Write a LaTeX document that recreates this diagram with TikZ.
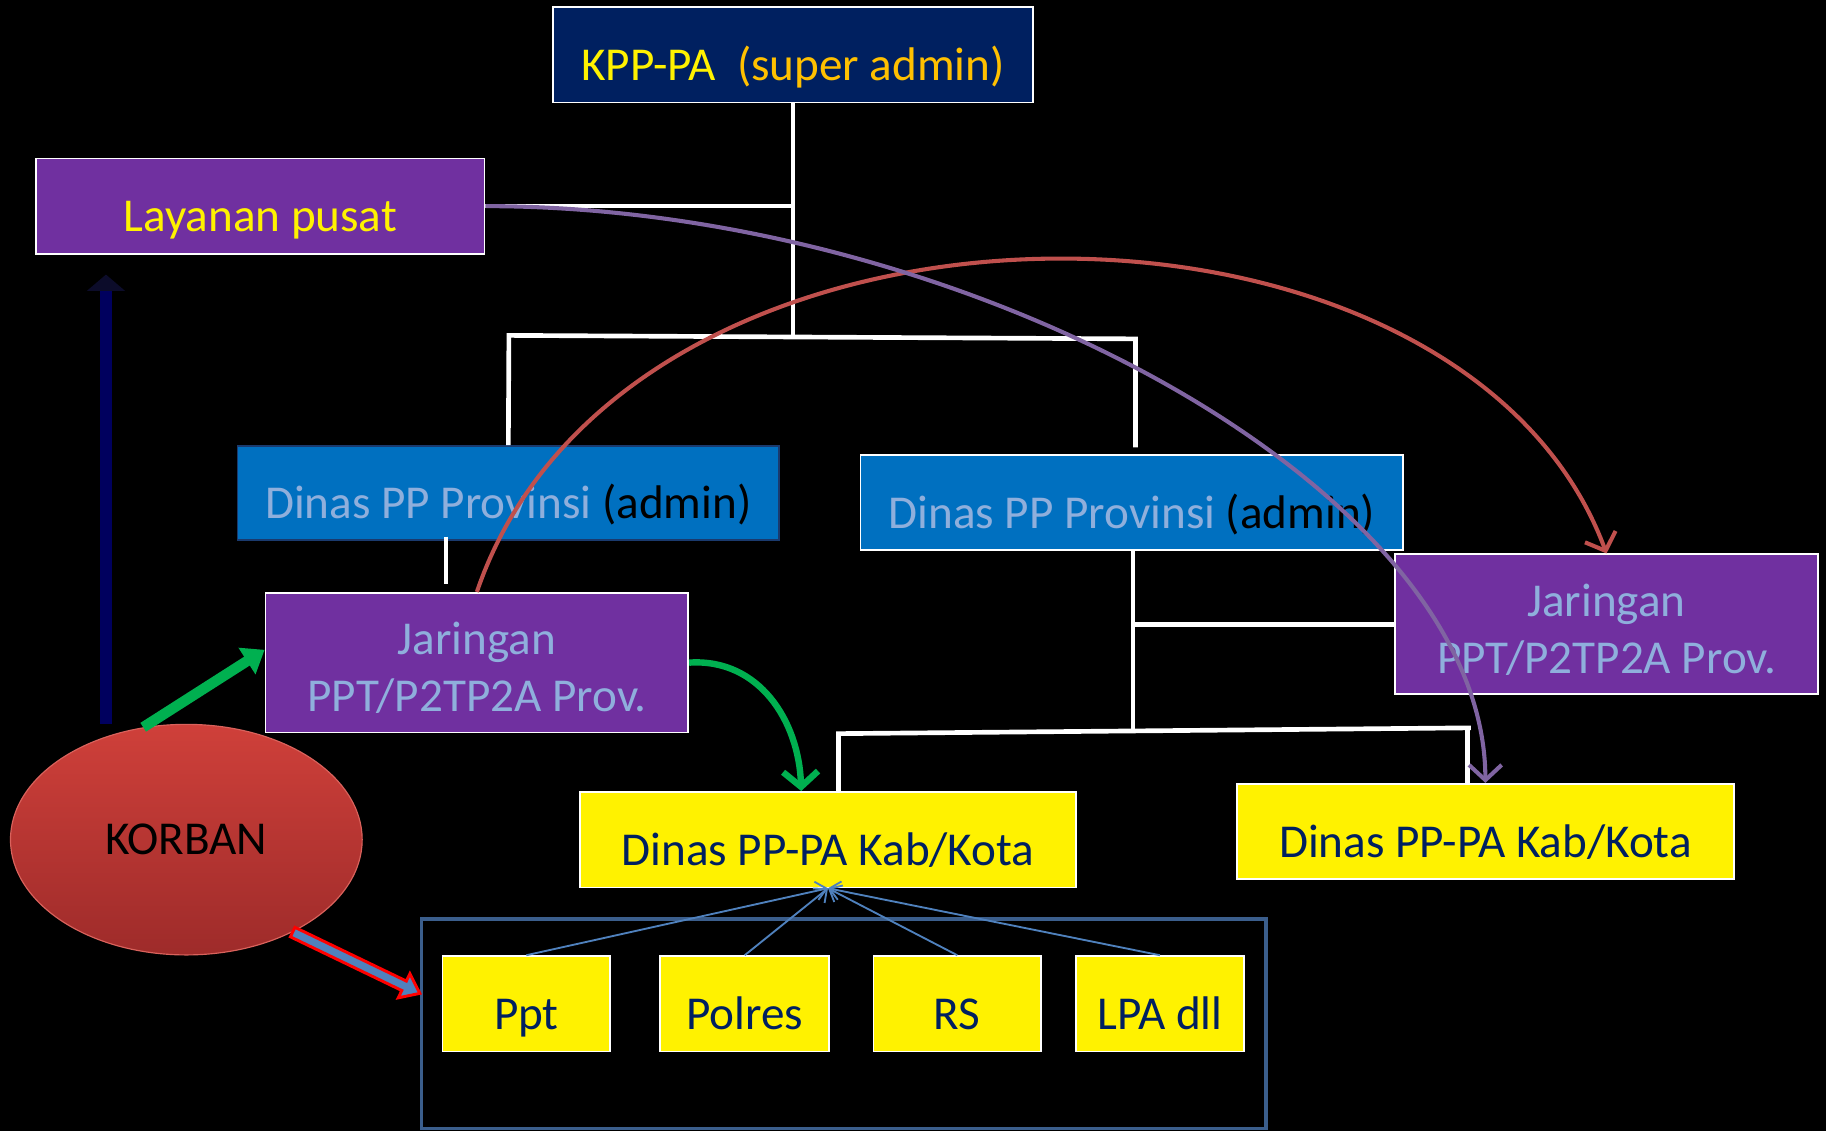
\documentclass[tikz,border=0pt]{standalone}
\usepackage{fontspec}
\setmainfont{Carlito}
\usetikzlibrary{arrows.meta,calc,shapes.geometric}
\definecolor{kppnavy}{HTML}{002060}
\definecolor{kppgold}{HTML}{FFC000}
\definecolor{ungu}{HTML}{7030A0}
\definecolor{dinasblue}{HTML}{0070C0}
\definecolor{dinasedge}{HTML}{1A3A6E}
\definecolor{pale}{HTML}{8FAFDC}
\definecolor{kabtext}{HTML}{002060}
\definecolor{redline}{HTML}{C0504D}
\definecolor{purpline}{HTML}{8064A2}
\definecolor{feedblue}{HTML}{4F81BD}
\definecolor{framecol}{HTML}{3B5E8C}
\definecolor{hijau}{HTML}{00B050}
\definecolor{tuanavy}{HTML}{00005E}
\definecolor{headdark}{HTML}{0C0C2A}
\definecolor{korbtop}{HTML}{CF403A}
\definecolor{korbbot}{HTML}{9E2B2A}
\definecolor{korbedge}{HTML}{D9625C}
\newcommand\slidefont{\fontsize{40.5}{49}\selectfont}

\begin{document}
\begin{tikzpicture}[x=1pt,y=-1pt,
  slidebox/.style={draw=white,line width=1.5pt,inner sep=0pt,minimum height=82pt,font=\slidefont,text height=44pt,text depth=0pt},
  twoline/.style={draw=white,line width=1.5pt,inner sep=0pt,minimum width=363pt,minimum height=120pt,font=\slidefont,align=center,fill=ungu,text=pale},
  tree/.style={white,line width=4pt},
  feed/.style={feedblue,line width=1.6pt,-{Straight Barb[length=9pt,width=16pt]}},
  curvy/.style={line width=3.5pt,-{Straight Barb[length=13pt,width=28pt]}}]
\useasboundingbox (0,0) rectangle (1568,971);
\fill[black] (0,0) rectangle (1568,971);

\node[slidebox,fill=kppnavy,minimum width=412pt] (kpp) at (681,47) {{\color{yellow}KPP-PA}\ \ {\color{kppgold}(super admin)}};
\node[slidebox,fill=ungu,text=yellow,minimum width=385pt] (layanan) at (223.5,177) {Layanan pusat};
\node[slidebox,fill=dinasblue,draw=dinasedge,minimum width=465pt,minimum height=81pt] (provL) at (436.5,423.5) {{\color{pale}Dinas PP Provinsi} (admin)};
\node[slidebox,fill=dinasblue,minimum width=466pt,minimum height=81pt] (provR) at (972,431.5) {{\color{pale}Dinas PP Provinsi} (admin)};
\node[twoline] (jarL) at (409.5,569) {\rule{0pt}{37pt}Jaringan\\PPT/P2TP2A Prov.};
\node[twoline] (jarR) at (1379.5,536) {\rule{0pt}{37pt}Jaringan\\PPT/P2TP2A Prov.};
\node[slidebox,fill=yellow,text=kabtext,minimum width=426pt] (kabL) at (711,721) {Dinas PP-PA Kab/Kota};
\node[slidebox,fill=yellow,text=kabtext,minimum width=427pt] (kabR) at (1275.5,714) {Dinas PP-PA Kab/Kota};
\node[ellipse,minimum width=302pt,minimum height=198pt,inner sep=0pt,top color=korbtop,bottom color=korbbot,draw=korbedge,line width=1pt,font=\slidefont] (korban) at (160,721) {KORBAN};

\node[draw=framecol,line width=3pt,minimum width=725pt,minimum height=180pt,inner sep=0pt] (frame) at (724.5,879) {};
\node[slidebox,fill=yellow,text=kabtext,minimum width=144pt] (ppt) at (452,862) {Ppt};
\node[slidebox,fill=yellow,text=kabtext,minimum width=145pt] (polres) at (639.5,862) {Polres};
\node[slidebox,fill=yellow,text=kabtext,minimum width=144pt] (rs) at (822,862) {RS};
\node[slidebox,fill=yellow,text=kabtext,minimum width=144pt] (lpa) at (996,862) {LPA dll};

\coordinate (trunk) at (681,289);
\coordinate (hL) at (437,288);
\coordinate (hR) at (975,291);
\coordinate (hub) at (973,536);
\coordinate (drop) at (973,627);
\coordinate (kL) at (718,630);
\coordinate (kR) at (1263,625);
\draw[tree] (kpp.south) -- (trunk);
\draw[tree] (layanan.east) -- (layanan.east -| trunk);
\draw[tree] (provL.north) -- (hL) -- (hR) -- ($(hR |- provR.north)+(0,-6)$);
\draw[tree] ([xshift=-53.5pt,yshift=4pt]provL.south) -- ([xshift=-26.5pt,yshift=7pt]jarL.north);
\draw[tree] (provR.south -| hub) -- (drop);
\draw[tree] (hub) -- (jarR.west);
\draw[tree] (kL) -- (kR);
\draw[tree] ([xshift=9pt]kabL.north) -- ++(0,-50);
\draw[tree] ([xshift=-15.5pt]kabR.north) -- ++(0,-48);

\foreach \b in {ppt,polres,rs,lpa}
  \draw[feed] (\b.north) -- (kabL.south);

\draw[tuanavy,line width=10pt,-{Triangle[length=14pt,width=32pt,color=headdark]}] ([xshift=-69pt]korban.north) -- ([xshift=-132.5pt,yshift=-17pt]layanan.south);
\draw[hijau,line width=9pt,-{Triangle[length=18pt,width=26pt]}] (korban.111.6) -- ([yshift=11pt]jarL.west);
\draw[hijau,line width=5.5pt,-{Straight Barb[length=13pt,width=30pt]}] (jarL.east) .. controls +(60,-4) and +(-2,-60) .. ([xshift=-23pt]kabL.north);

\coordinate (kt) at (korban.-41);
\coordinate (kh) at ([yshift=26pt]frame.west);
\coordinate (hb) at ($(kh)!15pt!(kt)$);
\draw[red,line width=2.5pt,fill=feedblue,line join=miter]
  ($(kt)!4.5pt!90:(kh)$) -- ($(hb)!4.5pt!-90:(kt)$) -- ($(hb)!11.5pt!-90:(kt)$) -- (kh)
  -- ($(hb)!11.5pt!90:(kt)$) -- ($(hb)!4.5pt!90:(kt)$) -- ($(kt)!4.5pt!-90:(kh)$) -- cycle;

\draw[curvy,redline] (jarL.north) .. controls (537,133) and (1253,133) .. (jarR.north);
\draw[curvy,purpline] (layanan.east) .. controls (829,177) and (1275,420) .. (kabR.north);
\end{tikzpicture}
\end{document}
